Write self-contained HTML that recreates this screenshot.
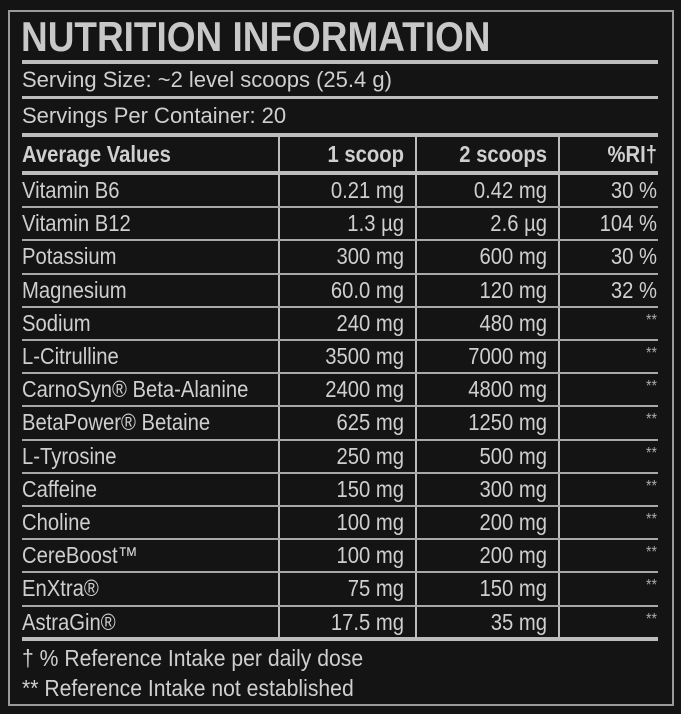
<!DOCTYPE html>
<html><head><meta charset="utf-8"><style>
html,body{margin:0;padding:0;background:#141414;}
body{width:681px;height:714px;position:relative;overflow:hidden;font-family:"Liberation Sans",sans-serif;color:#cfcfcf;}
.frame{position:absolute;left:8px;top:10px;width:662px;height:692px;border:2px solid #9a9a9a;}
.h{position:absolute;left:22px;width:636px;background:#bdbdbd;}
.v{position:absolute;width:2px;background:#bdbdbd;}
.t{position:absolute;white-space:nowrap;font-size:22px;line-height:26px;}
.c{font-size:23px;transform:scaleX(0.88);transform-origin:0 0;}
.r{text-align:right;transform-origin:100% 0;}
.b{font-weight:bold;}
</style></head><body>
<div class="frame"></div>
<div class="t b" style="left:21px;top:14px;font-size:42px;line-height:46px;color:#c8c8c8;transform:scaleX(0.88);transform-origin:0 0;">NUTRITION INFORMATION</div>
<div class="h" style="top:60px;height:4px;"></div>
<div class="t" style="left:22px;top:67px;">Serving Size: ~2 level scoops (25.4 g)</div>
<div class="h" style="top:96px;height:3px;"></div>
<div class="t" style="left:22px;top:103px;">Servings Per Container: 20</div>
<div class="h" style="top:133px;height:4px;"></div>
<div class="v" style="left:278px;top:137px;height:501px;"></div>
<div class="v" style="left:415px;top:137px;height:501px;"></div>
<div class="v" style="left:558px;top:137px;height:501px;"></div>
<div class="t b c" style="left:22px;top:141px;">Average Values</div>
<div class="t b c r" style="left:280px;width:124px;top:141px;">1 scoop</div>
<div class="t b c r" style="left:417px;width:130px;top:141px;">2 scoops</div>
<div class="t b c r" style="left:560px;width:97px;top:141px;">%RI†</div>
<div class="h" style="top:171px;height:4px;"></div>
<div id="rows"></div>
<div class="h" style="top:637px;height:4px;"></div>
<div class="t" style="left:22px;top:645px;font-size:23px;transform:scaleX(0.92);transform-origin:0 0;">† % Reference Intake per daily dose</div>
<div class="t" style="left:22px;top:675px;font-size:23px;transform:scaleX(0.92);transform-origin:0 0;">** Reference Intake not established</div>
<script>
(function(){
var d=[["Vitamin B6","0.21 mg","0.42 mg","30 %"],["Vitamin B12","1.3 µg","2.6 µg","104 %"],["Potassium","300 mg","600 mg","30 %"],["Magnesium","60.0 mg","120 mg","32 %"],["Sodium","240 mg","480 mg","**"],["L-Citrulline","3500 mg","7000 mg","**"],["CarnoSyn® Beta-Alanine","2400 mg","4800 mg","**"],["BetaPower® Betaine","625 mg","1250 mg","**"],["L-Tyrosine","250 mg","500 mg","**"],["Caffeine","150 mg","300 mg","**"],["Choline","100 mg","200 mg","**"],["CereBoost™","100 mg","200 mg","**"],["EnXtra®","75 mg","150 mg","**"],["AstraGin®","17.5 mg","35 mg","**"]];
var h="",y0=175,rh=33.2;
d.forEach(function(r,i){var y=y0+i*rh;var ty=Math.round(y+2);
var st=r[3]=="**"?"font-size:16px;color:#aaa;top:"+(ty-2)+"px":"top:"+ty+"px";
h+='<div class="t c" style="left:22px;top:'+ty+'px">'+r[0]+'</div>'+
'<div class="t c r" style="left:280px;width:124px;top:'+ty+'px">'+r[1]+'</div>'+
'<div class="t c r" style="left:417px;width:130px;top:'+ty+'px">'+r[2]+'</div>'+
'<div class="t c r" style="left:560px;width:97px;'+st+'">'+r[3]+'</div>';
if(i<13)h+='<div class="h" style="top:'+Math.round(y+rh-2)+'px;height:2px;background:#a8a8a8"></div>';});
document.getElementById("rows").innerHTML=h;
})();
</script>
</body></html>
